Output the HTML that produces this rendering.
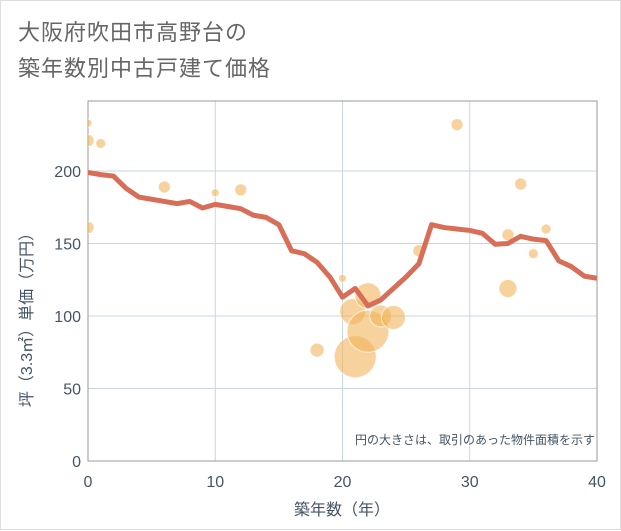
<!DOCTYPE html>
<html><head><meta charset="utf-8"><style>
body{margin:0;background:#fff;}
#wrap{position:relative;width:619px;height:528px;border:1px solid #ddd;background:#fff;font-family:"Liberation Sans","Noto Sans CJK JP",sans-serif;}
#title{position:absolute;left:17px;top:14px;font-size:22px;line-height:36px;color:#666;letter-spacing:1px;}
svg{position:absolute;left:0;top:0;}
</style></head><body>
<div id="wrap">
<div id="title">大阪府吹田市高野台の<br>築年数別中古戸建て価格</div>
<svg id="chart" width="621" height="530"><defs><clipPath id="pc"><rect x="87" y="100" width="509" height="360"/></clipPath></defs></svg>
</div>
<script>
const xTicks=[0,10,20,30,40];
const yTicks=[0,50,100,150,200];
const lineYears=[0,1,2,3,4,5,6,7,8,9,10,11,12,13,14,15,16,17,18,19,20,21,22,23,24,25,26,27,28,29,30,31,32,33,34,35,36,37,38,39,40];
const lineValues=[199,197.5,196.5,188,182,180.5,179,177.5,179,174.5,177,175.5,174,169.5,168,163,145,143,137,127,113,119,107,111,119,127,136,163,161,160,159,157,149.5,150,155,153,152,138,134,127.5,126];
const bubbleYears=[0,0,1,0,6,10,12,18,20,21,20.8,22,22,23,24,26,29,33,33,34,35,36];
const bubbleValues=[233,221,219,161,189,185,187,76.5,126,72,103,89.5,114,100,99,145,232,119,156,191,143,160];
const bubbleRadii=[4,6,5,6,6,4,6,7,4,21,13,21,13,11,12,6,6,9,6,6,5,5];
const NS='http://www.w3.org/2000/svg';
const svg=document.getElementById('chart');
const X0=87,X1=596,Y0=460,Y1=170;
const xs=v=>X0+(X1-X0)*v/40;
const ys=v=>Y0-(Y0-Y1)*v/200;
function mk(tag,attrs,parent){const e=document.createElementNS(NS,tag);for(const k in attrs)e.setAttribute(k,attrs[k]);(parent||svg).appendChild(e);return e;}
xTicks.forEach(t=>{
 const l=mk('line',{x1:xs(t),x2:xs(t),y1:100,y2:Y0,stroke:'#c8d6e4','stroke-width':1});
 
 
 const tx=mk('text',{x:xs(t),y:486,'text-anchor':'middle','font-size':16,fill:'#445566'});
 tx.textContent=t;
 
 
});
yTicks.forEach(t=>{
 const l=mk('line',{x1:X0,x2:X1,y1:ys(t),y2:ys(t),stroke:'#c8d6e4','stroke-width':1});
 
 
 const tx=mk('text',{x:80,y:ys(t)+6,'text-anchor':'end','font-size':16,fill:'#445566'});
 tx.textContent=t;
 
 
});
const frame=mk('rect',{x:X0,y:100,width:X1-X0,height:Y0-100,fill:'none',stroke:'#999','stroke-width':1});


const g=mk('g',{'clip-path':'url(#pc)'});


bubbleYears.forEach((yr,i)=>{
 const c=mk('circle',{cx:xs(yr),cy:ys(bubbleValues[i]),r:bubbleRadii[i],fill:'rgba(242,180,90,0.6)',stroke:'rgba(255,255,255,0.7)','stroke-width':1},g);
 
 
});
const pts=lineYears.map((yr,i)=>xs(yr)+','+ys(lineValues[i])).join(' ');
const pl=mk('polyline',{points:pts,fill:'none',stroke:'#d96e58','stroke-width':5,'stroke-linejoin':'round'},g);


const note=mk('text',{x:594,y:443,'text-anchor':'end','font-size':12,fill:'#445566'});
note.textContent='円の大きさは、取引のあった物件面積を示す';


const xt=mk('text',{x:341,y:514,'text-anchor':'middle','font-size':16,fill:'#445566'});
xt.textContent='築年数（年）';


const yt=mk('text',{x:0,y:0,'text-anchor':'middle','font-size':16,fill:'#445566',transform:'translate(31,315) rotate(-90)'});
yt.textContent='坪（3.3㎡）単価（万円）';


</script>
</body></html>
